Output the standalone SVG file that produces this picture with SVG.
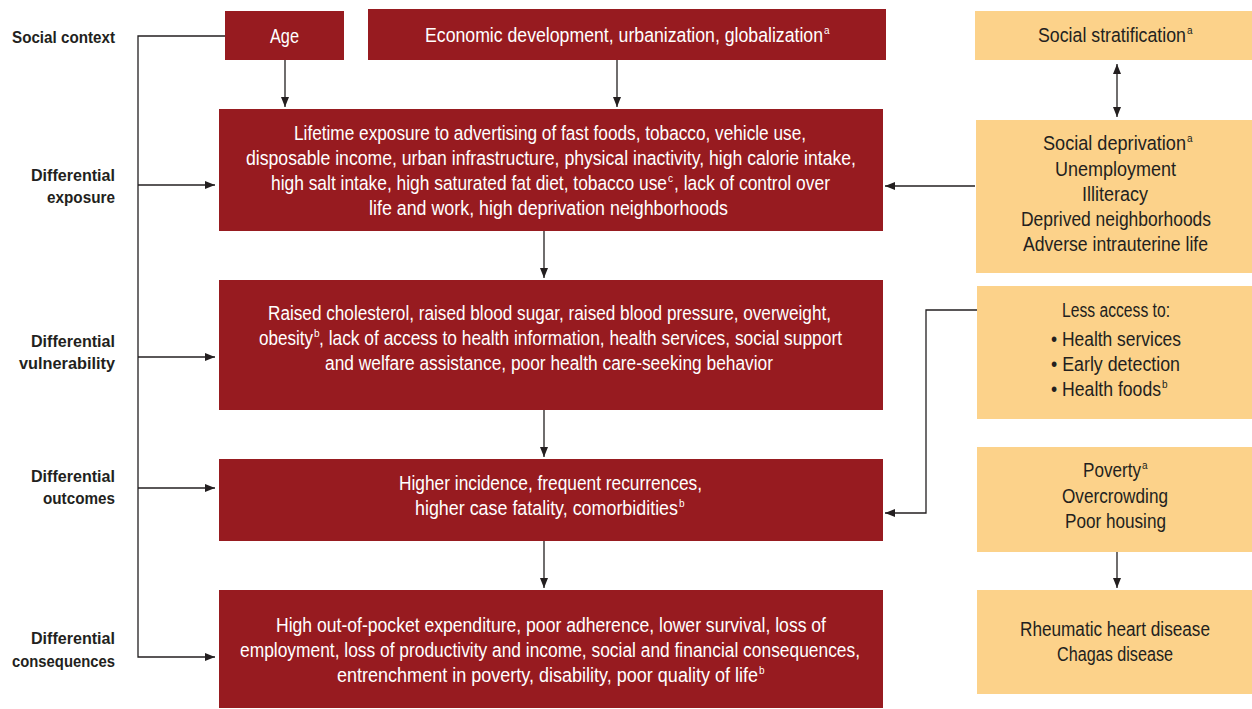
<svg xmlns="http://www.w3.org/2000/svg" width="1252" height="709" viewBox="0 0 1252 709">
<style>
.red{fill:#971b20}
.org{fill:#fcd28a}
.t{font-family:"Liberation Sans Narrow","Liberation Sans",Arial,sans-serif;font-size:19.5px;text-anchor:middle}
.s{text-anchor:start}
.w{fill:#ffffff}
.d{fill:#231f20}
.lab{font-family:"Liberation Sans Narrow","Liberation Sans",Arial,sans-serif;font-size:17px;font-weight:bold;fill:#231f20;text-anchor:end}
.sup{font-family:"Liberation Sans Narrow","Liberation Sans",Arial,sans-serif;font-size:10px;text-anchor:start}
.c{fill:none;stroke:#231f20;stroke-width:1.3}
</style>
<defs>
<marker id="ah" viewBox="0 0 10 8" refX="10" refY="4" markerWidth="10" markerHeight="8" markerUnits="userSpaceOnUse" orient="auto-start-reverse">
<path d="M0 0 L10 4 L0 8 Z" fill="#231f20"/>
</marker>
</defs>
<rect width="1252" height="709" fill="#ffffff"/>

<g id="labels">
<text class="lab" x="115" y="43" textLength="103" lengthAdjust="spacingAndGlyphs">Social context</text>
<text class="lab" x="115" y="181" textLength="84" lengthAdjust="spacingAndGlyphs">Differential</text>
<text class="lab" x="115" y="203" textLength="68" lengthAdjust="spacingAndGlyphs">exposure</text>
<text class="lab" x="115" y="347" textLength="84" lengthAdjust="spacingAndGlyphs">Differential</text>
<text class="lab" x="115" y="369" textLength="96" lengthAdjust="spacingAndGlyphs">vulnerability</text>
<text class="lab" x="115" y="482" textLength="84" lengthAdjust="spacingAndGlyphs">Differential</text>
<text class="lab" x="115" y="504" textLength="72" lengthAdjust="spacingAndGlyphs">outcomes</text>
<text class="lab" x="115" y="644" textLength="84" lengthAdjust="spacingAndGlyphs">Differential</text>
<text class="lab" x="115" y="667" textLength="103" lengthAdjust="spacingAndGlyphs">consequences</text>
</g>

<g id="age">
<rect class="red" x="225" y="11" width="119" height="49"/>
<text class="t w" x="284.5" y="43" textLength="29" lengthAdjust="spacingAndGlyphs">Age</text>
</g>

<g id="economic">
<rect class="red" x="368" y="9" width="518" height="51"/>
<text class="t s w" transform="translate(425 42) scale(0.8 1)" textLength="497.5" lengthAdjust="spacingAndGlyphs">Economic development, urbanization, globalization</text>
<text class="sup w" x="824" y="34">a</text>
</g>

<g id="exposure">
<rect class="red" x="219" y="109" width="664" height="122"/>
<text class="t w" x="550" y="140" textLength="512" lengthAdjust="spacingAndGlyphs">Lifetime exposure to advertising of fast foods, tobacco, vehicle use,</text>
<text class="t w" x="551" y="165" textLength="610" lengthAdjust="spacingAndGlyphs">disposable income, urban infrastructure, physical inactivity, high calorie intake,</text>
<text class="t s w" transform="translate(271 190) scale(0.8 1)" textLength="495" lengthAdjust="spacingAndGlyphs">high salt intake, high saturated fat diet, tobacco use</text>
<text class="sup w" x="668" y="182">c</text>
<text class="t s w" transform="translate(674 190) scale(0.8 1)" textLength="195" lengthAdjust="spacingAndGlyphs">, lack of control over</text>
<text class="t w" x="548.5" y="215" textLength="359" lengthAdjust="spacingAndGlyphs">life and work, high deprivation neighborhoods</text>
</g>

<g id="vulnerability">
<rect class="red" x="219" y="280" width="664" height="130"/>
<text class="t w" x="549.5" y="320" textLength="563" lengthAdjust="spacingAndGlyphs">Raised cholesterol, raised blood sugar, raised blood pressure, overweight,</text>
<text class="t s w" transform="translate(259 345) scale(0.8 1)" textLength="67.5" lengthAdjust="spacingAndGlyphs">obesity</text>
<text class="sup w" x="314" y="337">b</text>
<text class="t s w" transform="translate(319 345) scale(0.8 1)" textLength="653.75" lengthAdjust="spacingAndGlyphs">, lack of access to health information, health services, social support</text>
<text class="t w" x="549" y="370" textLength="448" lengthAdjust="spacingAndGlyphs">and welfare assistance, poor health care-seeking behavior</text>
</g>

<g id="outcomes">
<rect class="red" x="219" y="459" width="664" height="82"/>
<text class="t w" x="550.5" y="490" textLength="303" lengthAdjust="spacingAndGlyphs">Higher incidence, frequent recurrences,</text>
<text class="t s w" transform="translate(415 515) scale(0.8 1)" textLength="328.75" lengthAdjust="spacingAndGlyphs">higher case fatality, comorbidities</text>
<text class="sup w" x="679" y="507">b</text>
</g>

<g id="consequences">
<rect class="red" x="219" y="590" width="664" height="118"/>
<text class="t w" x="551" y="632" textLength="550" lengthAdjust="spacingAndGlyphs">High out-of-pocket expenditure, poor adherence, lower survival, loss of</text>
<text class="t w" x="550" y="657" textLength="620" lengthAdjust="spacingAndGlyphs">employment, loss of productivity and income, social and financial consequences,</text>
<text class="t s w" transform="translate(337 682) scale(0.8 1)" textLength="526.25" lengthAdjust="spacingAndGlyphs">entrenchment in poverty, disability, poor quality of life</text>
<text class="sup w" x="759" y="674">b</text>
</g>

<g id="stratification">
<rect class="org" x="975" y="11" width="277" height="49"/>
<text class="t s d" transform="translate(1038 42) scale(0.8 1)" textLength="185" lengthAdjust="spacingAndGlyphs">Social stratification</text>
<text class="sup d" x="1187" y="34">a</text>
</g>

<g id="deprivation">
<rect class="org" x="976" y="120" width="276" height="153"/>
<text class="t s d" transform="translate(1043 150) scale(0.8 1)" textLength="178.75" lengthAdjust="spacingAndGlyphs">Social deprivation</text>
<text class="sup d" x="1187" y="142">a</text>
<text class="t d" x="1115.5" y="176" textLength="121" lengthAdjust="spacingAndGlyphs">Unemployment</text>
<text class="t d" x="1115" y="201" textLength="66" lengthAdjust="spacingAndGlyphs">Illiteracy</text>
<text class="t d" x="1116" y="226" textLength="190" lengthAdjust="spacingAndGlyphs">Deprived neighborhoods</text>
<text class="t d" x="1115.5" y="251" textLength="185" lengthAdjust="spacingAndGlyphs">Adverse intrauterine life</text>
</g>

<g id="access">
<rect class="org" x="977" y="286" width="275" height="133"/>
<text class="t d" x="1116" y="317" textLength="108" lengthAdjust="spacingAndGlyphs">Less access to:</text>
<text class="t s d" x="1051" y="346" textLength="130" lengthAdjust="spacingAndGlyphs">• Health services</text>
<text class="t s d" x="1051" y="371" textLength="129" lengthAdjust="spacingAndGlyphs">• Early detection</text>
<text class="t s d" transform="translate(1051 396) scale(0.8 1)" textLength="137.5" lengthAdjust="spacingAndGlyphs">• Health foods</text>
<text class="sup d" x="1162" y="388">b</text>
</g>

<g id="poverty">
<rect class="org" x="977" y="447" width="275" height="105"/>
<text class="t s d" transform="translate(1083 477) scale(0.8 1)" textLength="72.5" lengthAdjust="spacingAndGlyphs">Poverty</text>
<text class="sup d" x="1142" y="469">a</text>
<text class="t d" x="1115" y="503" textLength="106" lengthAdjust="spacingAndGlyphs">Overcrowding</text>
<text class="t d" x="1115.5" y="528" textLength="101" lengthAdjust="spacingAndGlyphs">Poor housing</text>
</g>

<g id="diseases">
<rect class="org" x="977" y="590" width="275" height="104"/>
<text class="t d" x="1115" y="636" textLength="190" lengthAdjust="spacingAndGlyphs">Rheumatic heart disease</text>
<text class="t d" x="1115" y="661" textLength="116" lengthAdjust="spacingAndGlyphs">Chagas disease</text>
</g>

<g id="connectors">
<path class="c" d="M225 36 H138 V657 H215" marker-end="url(#ah)"/>
<path class="c" d="M138 185 H215" marker-end="url(#ah)"/>
<path class="c" d="M138 357 H215" marker-end="url(#ah)"/>
<path class="c" d="M138 488 H215" marker-end="url(#ah)"/>
<path class="c" d="M285 60 V107" marker-end="url(#ah)"/>
<path class="c" d="M617 60 V107" marker-end="url(#ah)"/>
<path class="c" d="M544 231 V278" marker-end="url(#ah)"/>
<path class="c" d="M544 410 V457" marker-end="url(#ah)"/>
<path class="c" d="M544 541 V588" marker-end="url(#ah)"/>
<path class="c" d="M1117 64 V117" marker-start="url(#ah)" marker-end="url(#ah)"/>
<path class="c" d="M975 186 H885" marker-end="url(#ah)"/>
<path class="c" d="M977 310 H926 V513 H885" marker-end="url(#ah)"/>
<path class="c" d="M1117 552 V588" marker-end="url(#ah)"/>
</g>
</svg>
